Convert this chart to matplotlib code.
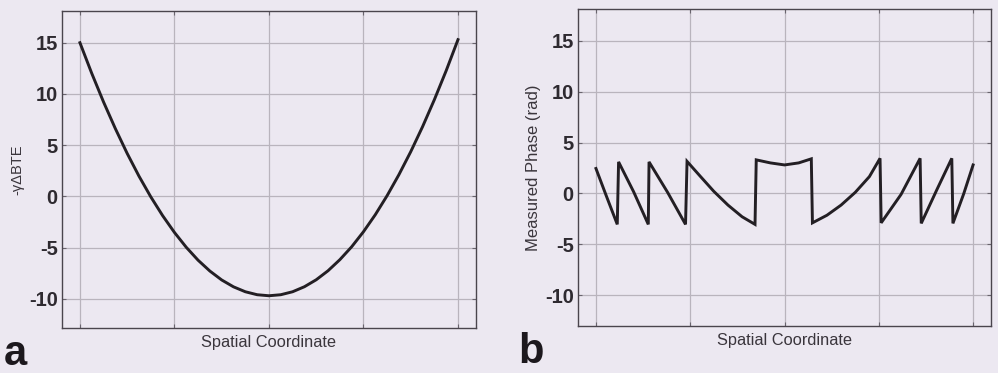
import numpy as np
import matplotlib.pyplot as plt

# panel a: unwrapped phase along the spatial coordinate
x_a = [0, 0.125, 0.25, 0.375, 0.5, 0.625, 0.75, 0.875, 1.0, 1.125, 1.25, 1.375, 1.5,
       1.625, 1.75, 1.875, 2.0, 2.125, 2.25, 2.375, 2.5, 2.625, 2.75, 2.875, 3.0,
       3.125, 3.25, 3.375, 3.5, 3.625, 3.75, 3.875, 4.0]
y_a = [15.0, 12.01, 9.21, 6.61, 4.19, 1.97, -0.05, -1.88, -3.52, -4.97, -6.23, -7.29,
       -8.16, -8.83, -9.31, -9.60, -9.70, -9.60, -9.31, -8.82, -8.14, -7.26, -6.18,
       -4.92, -3.45, -1.79, 0.07, 2.12, 4.36, 6.80, 9.44, 12.27, 15.30]

# panel b: measured (wrapped) phase
x_b = [0, 0.11, 0.226, 0.240, 0.40, 0.555, 0.563, 0.76, 0.950, 0.966, 1.1, 1.25, 1.4,
       1.55, 1.687, 1.700, 1.85, 2.0, 2.15, 2.284, 2.296, 2.45, 2.6, 2.75, 2.9, 3.013,
       3.025, 3.236, 3.438, 3.450, 3.615, 3.774, 3.786, 3.9, 4.0]
y_b = [2.45, -0.25, -3.05, 3.1, 0.15, -3.05, 3.1, 0.1, -3.05, 3.15, 1.75, 0.2, -1.15,
       -2.3, -3.05, 3.3, 3.0, 2.8, 3.0, 3.4, -2.9, -2.15, -1.15, 0.1, 1.65, 3.45,
       -2.9, -0.1, 3.45, -2.95, 0.35, 3.45, -2.95, -0.05, 2.8]

yticks = [-10, -5, 0, 5, 10, 15]
xgrid = [0, 1, 2, 3, 4]

bg = '#ece8f1'
plt.rcParams['font.family'] = ['Liberation Sans', 'DejaVu Sans']

fig = plt.figure(figsize=(9.98, 3.73), dpi=100, facecolor=bg)
ax_a = fig.add_axes([0.0621, 0.1206, 0.4148, 0.850])
ax_b = fig.add_axes([0.5792, 0.1260, 0.4138, 0.850])

panels = [(ax_a, x_a, y_a, '-γΔBTE', (-12.85, 18.1), 10.5),
          (ax_b, x_b, y_b, 'Measured Phase (rad)', (-13.05, 18.15), 12)]

for ax, xs, ys, ylab, ylim, ysize in panels:
    ax.set_facecolor(bg)
    ax.plot(xs, ys, color='#231f24', lw=2.1, solid_joinstyle='miter')
    ax.set_xlim(-0.19, 4.19)
    ax.set_ylim(*ylim)
    ax.set_xticks(xgrid)
    ax.set_xticklabels([])
    ax.set_yticks(yticks)
    ax.set_yticklabels([str(t) for t in yticks], fontsize=14.5, fontweight='bold',
                       color='#2e2a30')
    ax.grid(True, color='#b9b4bd', lw=0.9)
    ax.tick_params(direction='in', length=3, width=0.8, color='#6a656e', pad=3,
                   top=True, right=True)
    for s in ax.spines.values():
        s.set_color('#4a454d')
        s.set_linewidth(1.0)
    ax.set_xlabel('Spatial Coordinate', fontsize=11.8, color='#3a353c', labelpad=2)
    ax.set_ylabel(ylab, fontsize=ysize, color='#3a353c', labelpad=3)

fig.text(0.004, 0.022, 'a', fontsize=30, fontweight='bold', color='#1c181d')
fig.text(0.519, 0.026, 'b', fontsize=30, fontweight='bold', color='#1c181d')

fig.savefig('out.png', dpi=100, facecolor=bg)
